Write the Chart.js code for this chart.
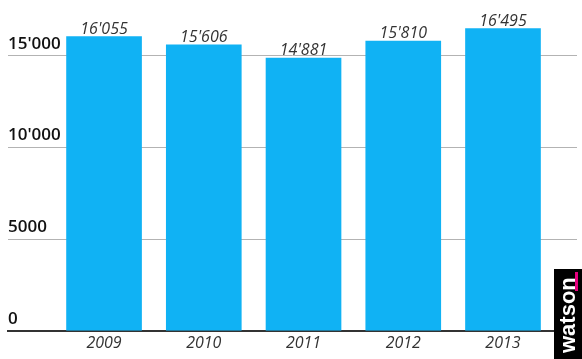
<!DOCTYPE html>
<html>
<head>
<meta charset="utf-8">
<script src="https://cdn.jsdelivr.net/npm/chart.js@4"></script>
<style>
    html, body { margin: 0; padding: 0; background: #fff; }
    #wrap { width: 582px; height: 359px; position: relative; }
</style>
</head>
<body>
<div id="wrap"><canvas id="myChart" width="582" height="359"></canvas></div>
<script>
// datos
const anios = [2009, 2010, 2011, 2012, 2013];
const valores = [16055, 15606, 14881, 15810, 16495];
const ticksY = [0, 5000, 10000, 15000];

const formato = (v) => {
    if (v < 10000) return String(v);
    const s = String(v);
    return s.slice(0, s.length - 3) + "'" + s.slice(s.length - 3);
};

// etiquetas encima de las barras
const etiquetas = {
    id: 'etiquetas',
    afterDatasetsDraw(chart) {
        const ctx = chart.ctx;
        const meta = chart.getDatasetMeta(0);
        ctx.save();
        ctx.font = 'italic 400 16px "Open Sans"';
        ctx.fillStyle = '#333';
        ctx.textAlign = 'center';
        ctx.textBaseline = 'alphabetic';
        meta.data.forEach((bar, i) => {
            ctx.fillText(formato(valores[i]), bar.x, bar.y - 3);
        });
        ctx.restore();
    }
};

// logo watson abajo a la derecha
const logo = {
    id: 'logo',
    afterDraw(chart) {
        const ctx = chart.ctx;
        ctx.save();
        ctx.fillStyle = '#000';
        ctx.fillRect(554, 269, 28, 90);
        ctx.fillStyle = '#e5007d';
        ctx.fillRect(575, 272, 3, 19);
        ctx.translate(575, 353);
        ctx.rotate(-Math.PI / 2);
        ctx.fillStyle = '#fff';
        ctx.font = 'bold 22px "Liberation Sans"';
        ctx.textAlign = 'left';
        ctx.textBaseline = 'alphabetic';
        ctx.fillText('watson', 0, 0);
        ctx.restore();
    }
};

var ctx1 = document.getElementById('myChart').getContext('2d');
var myChart = new Chart(ctx1, {
    type: 'bar',
    data: {
        datasets: [{
            data: anios.map((a, i) => ({ x: a, y: valores[i] })),
            backgroundColor: '#10b2f4',
            borderWidth: 0,
            barThickness: 75
        }]
    },
    options: {
        responsive: false,
        animation: false,
        layout: {
            padding: { left: 8, right: 5, top: 1, bottom: 3 }
        },
        plugins: {
            legend: { display: false },
            tooltip: { enabled: false }
        },
        scales: {
            x: {
                type: 'linear',
                offset: false,
                min: 2008.037,
                max: 2013.742,
                z: 1,
                afterBuildTicks: (scale) => {
                    scale.ticks = anios.map(a => ({ value: a }));
                },
                grid: { display: false, drawTicks: false, offset: false },
                border: { display: true, color: '#333', width: 2 },
                ticks: {
                    padding: 3,
                    color: '#333',
                    font: { family: 'Open Sans', size: 16, style: 'italic' },
                    maxRotation: 0,
                    callback: (v) => String(v)
                }
            },
            y: {
                min: 0,
                max: 18000,
                z: 1,
                afterBuildTicks: (scale) => {
                    scale.ticks = ticksY.map(v => ({ value: v }));
                },
                grid: { color: '#b3b3b3', lineWidth: 1, drawTicks: false },
                border: { display: false },
                ticks: {
                    mirror: true,
                    padding: 0,
                    labelOffset: -12,
                    color: '#111',
                    font: { family: 'Open Sans', size: 17, weight: '600', lineHeight: 0.1 },
                    callback: (v) => formato(v)
                }
            }
        }
    },
    plugins: [etiquetas, logo]
});
</script>
</body>
</html>
